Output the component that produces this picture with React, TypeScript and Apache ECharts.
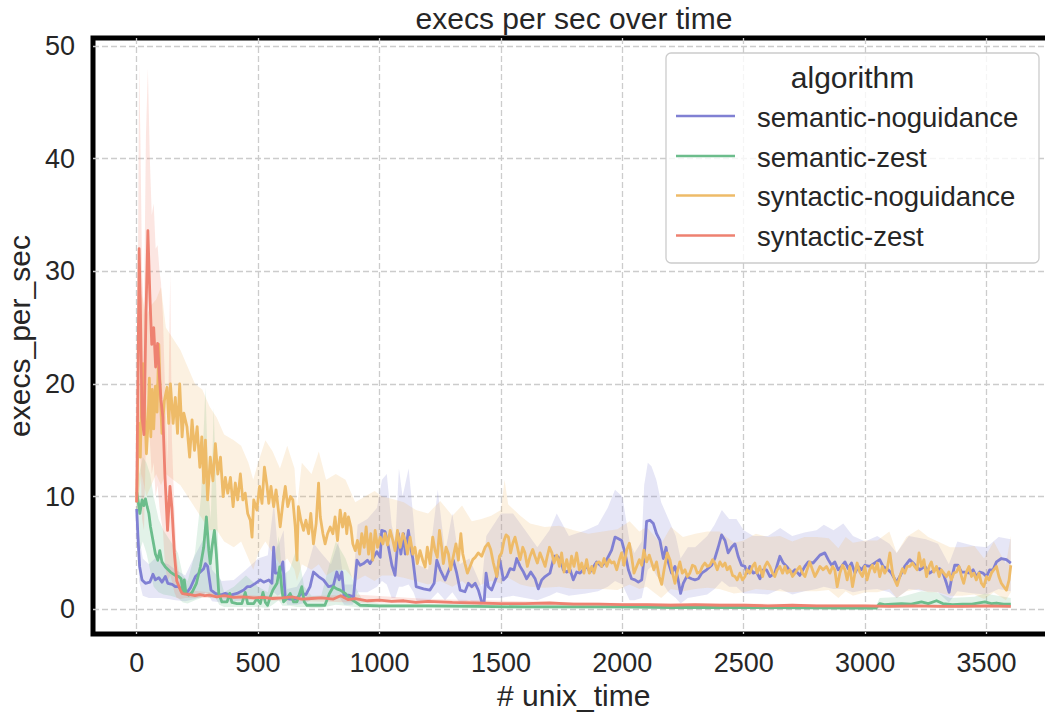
import { useEffect, useRef } from "react";
import * as echarts from "echarts";

type Pt = [number, number];
type BandRow = [number, number, number]; // [time, lower, upper]

// ---- axis ticks ----
const xTicks = [0, 500, 1000, 1500, 2000, 2500, 3000, 3500];
const yTicks = [0, 10, 20, 30, 40, 50];

// ---- semantic-noguidance ----
const semNoguidanceMean: Pt[] = [
  [0, 8.9], [6, 6.0], [12, 3.8], [22, 2.6], [36, 2.3], [54, 2.4], [67, 3.1], [77, 2.6], [91, 2.8], [104, 2.4],
  [118, 2.9], [128, 2.3], [146, 2.2], [159, 2.0], [173, 2.0], [187, 1.7], [207, 1.5], [221, 1.9], [242, 2.9],
  [262, 3.3], [276, 3.6], [283, 4.05], [292, 3.8], [306, 1.7], [324, 1.4], [345, 1.25], [365, 1.4], [386, 1.25],
  [413, 1.4], [441, 1.7], [455, 2.0], [468, 2.0], [489, 2.3], [509, 2.6], [523, 2.4], [544, 2.6], [557, 2.3],
  [564, 5.5], [571, 3.2], [585, 3.2], [591, 3.4], [602, 4.2], [612, 1.0], [632, 0.9], [655, 0.9], [680, 1.4],
  [697, 1.3], [714, 2.0], [728, 3.3], [749, 2.9], [769, 2.6], [790, 2.0], [810, 2.1], [824, 3.3], [834, 2.6],
  [845, 3.3], [854, 1.1], [872, 1.25], [893, 1.1], [907, 4.35], [920, 3.9], [934, 4.05], [950, 4.35], [961, 4.05],
  [975, 4.6], [989, 5.1], [1003, 4.6], [1009, 7.0], [1023, 6.9], [1037, 5.5], [1051, 3.9], [1064, 3.0],
  [1078, 6.7], [1088, 4.9], [1099, 6.7], [1106, 4.9], [1119, 7.0], [1129, 5.4], [1137, 4.5], [1151, 2.0],
  [1181, 1.8], [1208, 1.7], [1225, 2.3], [1236, 4.35], [1250, 3.5], [1270, 2.6], [1291, 3.75], [1304, 4.35],
  [1318, 3.2], [1332, 1.7], [1352, 1.55], [1366, 2.3], [1380, 2.0], [1394, 2.3], [1407, 1.7], [1421, 0.65],
  [1431, 0.65], [1439, 3.2], [1448, 2.0], [1462, 1.7], [1483, 2.9], [1494, 4.5], [1503, 3.5], [1510, 2.6],
  [1524, 2.9], [1538, 3.6], [1554, 3.5], [1565, 4.5], [1579, 3.8], [1593, 3.3], [1606, 2.7], [1623, 3.3],
  [1641, 2.7], [1654, 1.8], [1668, 2.6], [1682, 2.9], [1702, 3.2], [1719, 4.7], [1732, 4.7], [1746, 4.4],
  [1757, 3.5], [1771, 3.3], [1785, 3.5], [1798, 2.6], [1812, 3.3], [1826, 3.2], [1839, 3.5], [1853, 3.8],
  [1867, 3.3], [1894, 4.2], [1915, 3.8], [1936, 4.4], [1956, 5.25], [1970, 6.4], [1984, 6.25], [1997, 6.1],
  [2011, 5.0], [2025, 3.5], [2038, 2.7], [2052, 2.6], [2066, 2.4], [2080, 2.6], [2089, 4.4], [2100, 7.8],
  [2114, 7.9], [2128, 7.6], [2141, 6.7], [2155, 6.1], [2169, 4.5], [2180, 5.5], [2189, 4.2], [2203, 3.2],
  [2217, 3.8], [2230, 2.6], [2240, 1.4], [2251, 2.3], [2265, 2.9], [2285, 2.7], [2299, 2.6], [2313, 2.7],
  [2327, 3.2], [2347, 3.5], [2368, 3.9], [2381, 4.5], [2395, 5.5], [2409, 6.6], [2423, 6.1], [2436, 5.0],
  [2450, 5.5], [2464, 5.8], [2477, 4.7], [2491, 3.9], [2505, 3.8], [2514, 3.2], [2525, 3.8], [2539, 3.2],
  [2553, 3.3], [2567, 2.7], [2580, 3.5], [2594, 3.5], [2608, 2.9], [2628, 3.2], [2649, 4.7], [2663, 4.1],
  [2677, 3.8], [2697, 3.2], [2711, 3.5], [2731, 3.0], [2752, 3.8], [2766, 4.2], [2786, 4.1], [2814, 4.8],
  [2834, 5.0], [2848, 4.4], [2862, 3.9], [2875, 4.2], [2889, 3.5], [2903, 3.8], [2917, 4.2], [2930, 3.6],
  [2944, 4.1], [2958, 3.2], [2972, 3.8], [2985, 3.5], [2999, 3.9], [3019, 3.8], [3040, 4.1], [3060, 4.4],
  [3074, 3.8], [3095, 3.5], [3108, 3.2], [3129, 2.4], [3143, 2.9], [3163, 3.8], [3184, 4.4], [3198, 4.1],
  [3211, 3.8], [3225, 3.5], [3246, 3.8], [3266, 3.2], [3287, 3.5], [3307, 3.6], [3321, 3.2], [3335, 2.3],
  [3346, 1.5], [3355, 2.6], [3369, 3.9], [3383, 3.9], [3397, 3.3], [3411, 3.3], [3431, 3.2], [3445, 3.5],
  [3458, 2.9], [3472, 3.3], [3486, 3.2], [3500, 2.9], [3513, 3.5], [3527, 3.5], [3541, 4.2], [3561, 4.5],
  [3582, 4.4], [3600, 4.1],
];
const semNoguidanceBand: BandRow[] = [
  [0, 7.5, 10.2], [10, 2.5, 6.5], [25, 1.2, 4.5], [50, 1.0, 4.0], [75, 1.0, 4.5], [100, 1.0, 4.2], [130, 0.9, 4.0],
  [160, 0.8, 3.5], [200, 0.7, 3.0], [240, 0.9, 4.8], [270, 1.2, 6.0], [290, 1.5, 7.0], [310, 0.7, 3.5],
  [350, 0.6, 2.5], [400, 0.7, 2.6], [450, 0.8, 3.5], [500, 1.0, 4.5], [540, 1.0, 4.8], [565, 1.5, 9.5],
  [580, 1.2, 5.5], [605, 1.5, 7.0], [620, 0.4, 1.8], [660, 0.4, 2.0], [700, 0.6, 3.5], [730, 1.0, 5.8],
  [760, 1.0, 5.0], [800, 0.8, 4.0], [830, 1.2, 6.0], [855, 0.4, 2.2], [890, 0.4, 2.2], [910, 1.5, 7.5],
  [950, 1.5, 8.0], [990, 2.0, 9.0], [1010, 2.5, 11.5], [1030, 2.2, 12.0], [1050, 1.0, 7.5], [1065, 1.0, 6.0],
  [1080, 2.0, 12.5], [1095, 2.0, 10.0], [1120, 2.2, 12.5], [1140, 1.5, 8.0], [1155, 0.6, 4.0], [1200, 0.6, 3.5],
  [1240, 1.5, 10.6], [1270, 0.8, 5.0], [1300, 1.5, 8.5], [1330, 0.6, 4.0], [1370, 0.8, 4.5], [1420, 0.3, 2.0],
  [1440, 1.0, 6.5], [1500, 1.0, 8.5], [1550, 1.2, 8.5], [1600, 1.0, 7.0], [1650, 0.8, 5.5], [1700, 1.2, 7.0],
  [1730, 1.5, 8.5], [1780, 1.2, 6.5], [1850, 1.4, 7.0], [1900, 1.6, 7.5], [1940, 2.0, 9.0], [1970, 2.5, 10.6],
  [2000, 2.2, 10.0], [2030, 0.8, 6.0], [2050, 0.8, 5.0], [2080, 1.0, 6.0], [2090, 2.0, 11.0], [2105, 3.5, 13.0],
  [2120, 3.8, 12.7], [2140, 3.0, 11.5], [2160, 2.5, 9.5], [2190, 1.5, 8.0], [2220, 1.0, 6.5], [2240, 0.5, 4.5],
  [2270, 1.0, 5.5], [2300, 1.1, 5.5], [2350, 1.3, 6.5], [2380, 1.8, 7.5], [2410, 2.5, 8.8], [2440, 2.0, 8.0],
  [2470, 2.0, 8.0], [2500, 1.4, 7.0], [2540, 1.4, 6.5], [2600, 1.3, 6.5], [2650, 1.8, 7.2], [2700, 1.3, 6.5],
  [2750, 1.6, 6.8], [2800, 1.8, 7.0], [2830, 2.0, 7.5], [2870, 1.8, 7.0], [2910, 1.8, 7.6], [2950, 1.5, 6.5],
  [3000, 1.7, 6.0], [3050, 1.8, 6.5], [3100, 1.5, 5.8], [3130, 1.0, 5.0], [3180, 1.8, 6.5], [3250, 1.6, 6.2],
  [3300, 1.5, 5.8], [3345, 0.6, 4.0], [3380, 1.6, 6.0], [3450, 1.4, 5.6], [3500, 1.3, 5.5], [3550, 1.8, 6.4],
  [3600, 1.6, 6.2],
];

// ---- semantic-zest ----
const semZestMean: Pt[] = [
  [0, 10.4], [6, 9.6], [13, 8.5], [22, 9.7], [29, 9.2], [36, 9.8], [43, 9.1], [50, 8.5], [57, 7.3], [67, 6.1],
  [77, 4.9], [87, 4.35], [95, 5.2], [104, 4.2], [118, 3.75], [139, 3.3], [159, 3.0], [173, 2.9], [183, 2.7],
  [191, 1.4], [196, 2.6], [203, 1.4], [214, 1.25], [228, 1.5], [246, 2.3], [262, 3.75], [276, 5.5], [287, 8.2],
  [297, 5.2], [303, 4.05], [310, 5.5], [320, 7.0], [328, 4.9], [338, 1.4], [351, 0.65], [372, 0.65], [383, 1.4],
  [392, 0.6], [413, 0.5], [433, 0.5], [447, 1.5], [457, 0.5], [470, 0.5], [482, 0.5], [495, 0.95], [509, 0.5],
  [520, 1.5], [530, 0.6], [539, 0.35], [550, 1.1], [561, 1.7], [578, 2.3], [589, 3.75], [598, 1.7], [605, 0.65],
  [618, 0.95], [632, 1.4], [646, 0.65], [660, 0.65], [671, 1.4], [680, 2.0], [690, 0.65], [701, 0.35], [730, 0.35],
  [756, 0.35], [775, 0.35], [794, 1.4], [810, 2.0], [824, 1.8], [838, 1.7], [859, 1.4], [879, 0.95], [900, 0.65],
  [920, 0.35], [1000, 0.3], [1200, 0.3], [1400, 0.25], [1600, 0.2], [1800, 0.2], [2000, 0.2], [2200, 0.15],
  [2500, 0.15], [2800, 0.12], [3000, 0.1], [3045, 0.1], [3060, 0.5], [3080, 0.4], [3110, 0.45], [3150, 0.5],
  [3190, 0.45], [3232, 0.65], [3260, 0.5], [3294, 0.75], [3320, 0.5], [3360, 0.4], [3400, 0.45], [3440, 0.45],
  [3493, 0.65], [3520, 0.5], [3541, 0.55], [3570, 0.45], [3600, 0.45],
];
const semZestBand: BandRow[] = [
  [0, 8.5, 12.5], [10, 5, 12], [25, 6, 13.5], [40, 5, 13], [55, 3.5, 12], [70, 2, 10], [90, 1.5, 8],
  [110, 1.3, 7], [140, 1.2, 6], [170, 1.0, 5], [190, 0.6, 3], [210, 0.5, 2.5], [240, 0.8, 5], [265, 1, 10],
  [283, 1.5, 19.7], [297, 1.0, 10], [305, 1.0, 8], [317, 1.2, 17.9], [330, 0.8, 9], [340, 0.4, 3],
  [360, 0.2, 1.5], [400, 0.2, 2.0], [450, 0.2, 3.0], [500, 0.2, 2.0], [540, 0.1, 1.5], [560, 0.4, 3.5],
  [585, 0.8, 6.5], [600, 0.3, 3.0], [630, 0.3, 3.5], [660, 0.2, 5.5], [690, 0.2, 2.0], [720, 0.1, 1.2],
  [760, 0.1, 1.2], [800, 0.3, 4.5], [820, 0.4, 6.0], [860, 0.3, 4.5], [900, 0.2, 2.0], [930, 0.1, 0.8],
  [1000, 0.1, 0.5], [2000, 0.05, 0.35], [3000, 0.0, 0.25], [3045, 0.0, 0.3], [3060, 0.1, 1.0], [3150, 0.1, 1.1],
  [3232, 0.2, 1.6], [3294, 0.2, 1.5], [3350, 0.1, 1.0], [3450, 0.1, 1.1], [3493, 0.2, 1.4], [3600, 0.1, 1.0],
];

// ---- syntactic-noguidance ----
const synNoguidanceMean: Pt[] = [
  [0, 9.5], [5, 14.5], [9, 16.5], [15, 13.5], [20, 19], [26, 21.8], [32, 18.5], [40, 13.8], [46, 16.2], [52, 20.5],
  [58, 15.3], [64, 19.5], [70, 16], [77, 19.8], [84, 17.5], [91, 23.5], [98, 18.6], [104, 15.6], [114, 18.5],
  [125, 19.7], [132, 16.5], [139, 20.0], [150, 16.5], [159, 18.8], [168, 15.6], [177, 20.0], [187, 15.3],
  [194, 17.4], [207, 16.2], [218, 13.5], [228, 16.8], [238, 14.1], [249, 16.2], [260, 12.6], [268, 15.3],
  [276, 11.2], [283, 15.0], [292, 9.7], [303, 13.5], [314, 11.4], [324, 14.7], [334, 12.0], [345, 13.5],
  [356, 10.0], [365, 11.7], [375, 10.3], [386, 11.7], [397, 9.1], [406, 11.2], [416, 9.7], [427, 12.0],
  [437, 9.7], [447, 10.3], [457, 8.5], [468, 7.9], [475, 6.4], [482, 9.7], [495, 8.8], [506, 10.9], [516, 9.4],
  [526, 12.6], [537, 10.9], [544, 9.4], [553, 10.9], [564, 9.1], [574, 10.6], [585, 8.5], [591, 7.3], [602, 9.4],
  [612, 10.9], [622, 9.1], [633, 10.0], [643, 9.7], [653, 7.3], [660, 4.35], [666, 9.1], [676, 7.9], [687, 7.0],
  [697, 7.9], [708, 6.7], [717, 8.5], [728, 5.8], [739, 7.6], [749, 11.2], [756, 8.2], [767, 6.7], [776, 5.8],
  [786, 6.7], [797, 7.3], [808, 6.7], [817, 8.2], [827, 6.1], [838, 8.8], [848, 7.3], [858, 8.5], [865, 6.7],
  [872, 8.2], [882, 7.3], [890, 5.8], [900, 5.2], [909, 6.1], [918, 4.9], [927, 6.7], [937, 5.5], [945, 7.3],
  [955, 4.9], [964, 6.7], [972, 4.35], [982, 7.0], [992, 5.5], [1003, 6.4], [1014, 5.8], [1023, 6.7], [1033, 5.7],
  [1044, 7.0], [1055, 6.1], [1064, 5.2], [1074, 7.0], [1085, 5.5], [1096, 6.7], [1106, 6.1], [1115, 4.9],
  [1126, 6.4], [1137, 4.9], [1146, 5.5], [1156, 4.05], [1167, 5.2], [1178, 4.35], [1188, 3.75], [1197, 5.5],
  [1208, 4.05], [1219, 6.4], [1229, 5.2], [1238, 4.6], [1247, 7.0], [1256, 5.5], [1263, 4.05], [1274, 5.5],
  [1284, 4.9], [1293, 3.5], [1304, 4.7], [1315, 5.8], [1325, 4.35], [1335, 6.7], [1343, 4.9], [1352, 4.05],
  [1362, 3.2], [1373, 3.8], [1384, 4.4], [1394, 4.6], [1407, 5.0], [1421, 4.7], [1435, 5.5], [1448, 5.85],
  [1458, 5.3], [1469, 4.1], [1483, 2.9], [1494, 4.7], [1503, 5.0], [1513, 6.1], [1521, 6.6], [1531, 6.4],
  [1540, 5.0], [1549, 5.85], [1558, 6.4], [1568, 5.5], [1579, 4.4], [1590, 5.5], [1599, 5.0], [1609, 3.8],
  [1620, 4.7], [1631, 5.3], [1640, 4.7], [1650, 4.1], [1661, 5.0], [1672, 4.4], [1682, 3.8], [1691, 4.7],
  [1700, 5.5], [1710, 5.0], [1719, 4.1], [1730, 4.8], [1741, 3.8], [1750, 5.0], [1760, 3.3], [1771, 4.4],
  [1782, 3.3], [1791, 4.7], [1801, 3.8], [1812, 5.0], [1823, 3.5], [1833, 4.1], [1842, 3.2], [1853, 4.4],
  [1864, 3.2], [1874, 3.8], [1883, 3.2], [1894, 4.1], [1905, 4.2], [1915, 3.8], [1925, 4.5], [1936, 3.8],
  [1946, 4.4], [1956, 4.1], [1966, 4.2], [1977, 3.5], [1988, 4.4], [1997, 5.0], [2007, 3.9], [2018, 5.25],
  [2029, 5.85], [2038, 4.7], [2048, 3.2], [2059, 3.8], [2070, 4.4], [2080, 3.9], [2089, 5.25], [2100, 4.2],
  [2111, 4.8], [2120, 4.2], [2130, 3.5], [2141, 4.2], [2152, 2.9], [2162, 2.2], [2172, 3.5], [2185, 5.0],
  [2196, 4.4], [2207, 3.2], [2217, 2.3], [2226, 3.3], [2237, 4.2], [2247, 3.2], [2258, 3.5], [2268, 2.9],
  [2278, 3.2], [2289, 3.9], [2299, 3.8], [2309, 3.2], [2320, 3.3], [2330, 3.8], [2340, 4.1], [2350, 3.8],
  [2361, 3.9], [2372, 4.4], [2381, 4.1], [2391, 3.5], [2402, 4.2], [2413, 3.8], [2423, 4.1], [2432, 3.5],
  [2443, 3.8], [2454, 3.0], [2464, 2.9], [2473, 2.6], [2484, 3.2], [2495, 2.6], [2505, 2.9], [2514, 3.5],
  [2525, 3.2], [2536, 3.8], [2546, 4.1], [2555, 3.2], [2566, 3.8], [2578, 2.9], [2587, 3.8], [2597, 4.2],
  [2608, 3.8], [2619, 3.2], [2628, 2.9], [2638, 3.5], [2649, 3.8], [2660, 3.2], [2670, 3.8], [2679, 3.2],
  [2690, 3.5], [2701, 2.9], [2711, 3.2], [2720, 3.5], [2731, 3.8], [2742, 3.2], [2752, 2.9], [2761, 3.5],
  [2772, 4.2], [2783, 3.5], [2793, 2.9], [2803, 3.3], [2814, 3.8], [2827, 3.5], [2841, 3.8], [2855, 3.2],
  [2866, 3.8], [2875, 3.5], [2885, 2.0], [2896, 3.2], [2907, 3.9], [2917, 3.5], [2926, 2.6], [2937, 3.8],
  [2948, 2.0], [2958, 3.2], [2967, 4.1], [2978, 3.3], [2989, 2.9], [2999, 3.8], [3008, 2.6], [3019, 3.5],
  [3030, 3.9], [3040, 3.3], [3050, 4.1], [3060, 2.9], [3071, 3.8], [3081, 3.2], [3091, 3.6], [3102, 5.0],
  [3113, 3.2], [3122, 2.6], [3132, 2.1], [3143, 2.9], [3154, 3.6], [3163, 3.2], [3173, 3.8], [3184, 3.8],
  [3195, 4.1], [3204, 3.8], [3214, 3.5], [3222, 5.0], [3232, 3.8], [3242, 4.4], [3253, 2.9], [3264, 3.8],
  [3273, 4.2], [3283, 3.3], [3294, 3.8], [3305, 2.9], [3314, 3.5], [3324, 3.2], [3335, 2.9], [3345, 3.3],
  [3355, 2.6], [3365, 3.2], [3376, 3.3], [3387, 3.8], [3397, 2.9], [3406, 2.3], [3417, 3.3], [3428, 3.8],
  [3438, 2.9], [3448, 3.2], [3458, 2.6], [3469, 3.2], [3479, 2.3], [3489, 2.0], [3500, 2.9], [3510, 2.6],
  [3520, 3.2], [3530, 3.5], [3541, 3.8], [3551, 2.9], [3561, 2.3], [3571, 2.0], [3582, 1.7], [3593, 2.6],
  [3600, 3.9],
];
const synNoguidanceBand: BandRow[] = [
  [0, 8.5, 11], [10, 10.5, 25], [20, 12, 28], [40, 10, 26], [60, 11, 27], [80, 12, 27.5], [100, 11, 28.6],
  [120, 12, 25], [150, 11.5, 24], [180, 11, 23], [210, 10, 21.5], [240, 9, 20], [270, 8, 19.5], [300, 7, 18],
  [330, 7, 17], [360, 6, 15.5], [400, 5.5, 15], [430, 6, 14.5], [460, 4.5, 13], [480, 3.5, 11.5], [500, 5, 13],
  [530, 6, 15], [560, 5, 14], [590, 4, 12.5], [620, 4.5, 14.5], [650, 3.5, 12.5], [660, 2.5, 9], [680, 4, 13],
  [720, 3.5, 12], [750, 4, 14], [780, 3, 11.5], [820, 3.5, 12], [860, 3.5, 11.5], [900, 2.5, 9.5], [940, 3, 10],
  [980, 2.5, 10.5], [1010, 3, 10], [1050, 3, 9.8], [1100, 2.8, 9.5], [1150, 2.5, 8.8], [1200, 2.2, 8.5],
  [1250, 2.5, 9.6], [1300, 2.0, 8.3], [1340, 2.5, 9.2], [1380, 1.8, 7.8], [1420, 2.2, 8.0], [1460, 2.5, 8.3],
  [1500, 2.3, 8.8], [1515, 3, 11.5], [1530, 2.8, 9.3], [1580, 2.2, 8.3], [1620, 2, 7.6], [1680, 1.9, 7.3],
  [1740, 2, 7.4], [1800, 1.8, 7.0], [1860, 1.8, 6.7], [1920, 1.8, 6.9], [1980, 1.7, 7.1], [2030, 2.2, 7.8],
  [2070, 1.8, 6.9], [2100, 2.0, 7.3], [2160, 1.0, 5.8], [2200, 1.8, 7.3], [2250, 1.6, 6.4], [2300, 1.8, 6.7],
  [2350, 1.9, 6.9], [2400, 1.8, 6.9], [2460, 1.4, 5.9], [2500, 1.5, 6.1], [2550, 1.8, 6.7], [2600, 1.7, 6.4],
  [2650, 1.6, 6.5], [2700, 1.5, 6.0], [2750, 1.6, 6.4], [2800, 1.6, 6.4], [2850, 1.7, 6.3], [2890, 1.0, 5.4],
  [2920, 1.6, 6.4], [2950, 1.2, 5.9], [3000, 1.5, 6.1], [3050, 1.5, 6.1], [3100, 1.8, 6.9], [3130, 1.0, 5.0],
  [3170, 1.6, 6.4], [3220, 1.8, 7.1], [3260, 1.5, 6.4], [3300, 1.5, 6.0], [3350, 1.2, 5.5], [3400, 1.2, 5.5],
  [3450, 1.3, 5.6], [3490, 0.9, 4.5], [3530, 1.5, 6.0], [3580, 0.8, 4.0], [3600, 1.5, 6.5],
];

// ---- syntactic-zest ----
const synZestMean: Pt[] = [
  [0, 9.5], [5, 20], [10, 32.0], [15, 27], [22, 17], [30, 15.5], [38, 26], [46, 33.6], [54, 28], [62, 23.5],
  [70, 25], [78, 21.5], [86, 23.6], [94, 20.5], [100, 18.6], [108, 17], [116, 12], [127, 7.0], [137, 10.9],
  [145, 9], [155, 5], [165, 2.5], [180, 1.7], [187, 1.4], [200, 1.35], [220, 1.3], [240, 1.2], [260, 1.3],
  [280, 1.2], [300, 1.25], [330, 1.1], [360, 1.2], [400, 1.05], [440, 1.1], [480, 1.0], [520, 1.05], [560, 0.95],
  [600, 1.0], [640, 1.1], [680, 0.9], [720, 0.95], [760, 1.0], [810, 0.9], [840, 1.2], [870, 0.85], [900, 0.95],
  [950, 0.75], [1000, 0.8], [1050, 0.7], [1100, 0.75], [1150, 0.6], [1200, 0.7], [1300, 0.6], [1400, 0.55],
  [1500, 0.5], [1600, 0.5], [1700, 0.55], [1800, 0.45], [1900, 0.45], [2000, 0.4], [2100, 0.4], [2200, 0.35],
  [2300, 0.4], [2400, 0.35], [2500, 0.35], [2600, 0.3], [2700, 0.35], [2800, 0.3], [2900, 0.3], [3000, 0.3],
  [3100, 0.25], [3200, 0.3], [3300, 0.25], [3400, 0.25], [3500, 0.3], [3600, 0.25],
];
const synZestBand: BandRow[] = [
  [0, 7.5, 11.5], [5, 10, 30], [10, 17, 48.5], [15, 14, 42], [22, 8, 30], [30, 7, 26], [38, 15, 42], [46, 20, 48],
  [54, 15, 40], [62, 12, 35], [70, 13, 36], [78, 10, 32], [86, 11, 32.3], [94, 9, 30], [100, 8, 29], [108, 7, 26],
  [116, 4, 20], [127, 2.5, 13], [138, 3, 29.8], [145, 2.5, 15], [155, 1.5, 9], [165, 1.0, 4.5], [180, 0.9, 2.5],
  [200, 1.0, 1.7], [300, 1.0, 1.5], [500, 0.8, 1.2], [700, 0.7, 1.15], [900, 0.6, 1.3], [1200, 0.5, 0.9],
  [1600, 0.35, 0.7], [2000, 0.3, 0.55], [2500, 0.2, 0.5], [3000, 0.2, 0.45], [3600, 0.15, 0.4],
];

const algorithms = [
  { name: "semantic-noguidance", color: "#8080d3", mean: semNoguidanceMean, band: semNoguidanceBand },
  { name: "semantic-zest", color: "#6cbd8c", mean: semZestMean, band: semZestBand },
  { name: "syntactic-noguidance", color: "#eebb68", mean: synNoguidanceMean, band: synNoguidanceBand },
  { name: "syntactic-zest", color: "#ee8170", mean: synZestMean, band: synZestBand },
];

const FONT = '"Liberation Sans", Arial, Helvetica, sans-serif';
const TEXT = "#262626";
const GRID_LINE = { type: [6, 3] as number[], color: "#cccccc", width: 1.3 };

function withAlpha(hex: string, a: number): string {
  const n = parseInt(hex.slice(1), 16);
  return `rgba(${(n >> 16) & 255},${(n >> 8) & 255},${n & 255},${a})`;
}

// confidence band drawn as one polygon through the cartesian coordinate system
function bandSeries(name: string, color: string, band: BandRow[], z: number) {
  return {
    type: "custom",
    name: `${name} band`,
    silent: true,
    z,
    data: band,
    encode: { x: 0, y: [1, 2] },
    renderItem: (params: any, api: any) => {
      if (params.dataIndex !== 0) return null;
      const upper = band.map((r) => api.coord([r[0], r[2]]));
      const lower = band.map((r) => api.coord([r[0], r[1]])).reverse();
      return {
        type: "polygon",
        shape: { points: upper.concat(lower) },
        style: { fill: withAlpha(color, 0.2), stroke: "none" },
      };
    },
  };
}

function legendGraphic() {
  const box = { x: 666, y: 53, w: 373, h: 210 };
  const rowsY = [116, 156, 195.5, 235.5];
  const children: any[] = [
    {
      type: "rect", z: 100,
      shape: { x: box.x, y: box.y, width: box.w, height: box.h, r: 5 },
      style: { fill: "rgba(255,255,255,0.8)", stroke: "#cccccc", lineWidth: 1.3 },
    },
    {
      type: "text", z: 101,
      style: {
        text: "algorithm", x: box.x + box.w / 2, y: 77, font: `30px ${FONT}`, fill: TEXT,
        align: "center", verticalAlign: "middle",
      },
    },
  ];
  algorithms.forEach((a, i) => {
    children.push({
      type: "line", z: 101,
      shape: { x1: 676, y1: rowsY[i], x2: 735, y2: rowsY[i] },
      style: { stroke: a.color, lineWidth: 2.6 },
    });
    children.push({
      type: "text", z: 101,
      style: {
        text: a.name, x: 757, y: rowsY[i] + 1, font: `27.5px ${FONT}`, fill: TEXT,
        align: "left", verticalAlign: "middle",
      },
    });
  });
  return { type: "group", children };
}

export default function App() {
  const ref = useRef<HTMLDivElement>(null);

  useEffect(() => {
    if (!ref.current) return;
    const chart = echarts.init(ref.current, undefined, { renderer: "svg" });

    const series: any[] = [];
    algorithms.forEach((a, i) => series.push(bandSeries(a.name, a.color, a.band, 1 + i * 0.01)));
    algorithms.forEach((a, i) =>
      series.push({
        type: "line",
        name: a.name,
        data: a.mean,
        showSymbol: false,
        symbol: "none",
        z: 3 + i,
        lineStyle: { color: a.color, width: 2.8, join: "round" },
        itemStyle: { color: a.color },
      })
    );

    const plain = (v: number) => String(v);

    chart.setOption({
      animation: false,
      backgroundColor: "#ffffff",
      textStyle: { fontFamily: FONT, color: TEXT },
      grid: {
        left: 93, top: 38, right: -9.5, bottom: 81,
        show: true, borderColor: "#000000", borderWidth: 5, backgroundColor: "transparent",
        containLabel: false, outerBoundsMode: "none",
      },
      xAxis: {
        type: "value", min: -180, max: 3780,
        name: "# unix_time", nameLocation: "middle", nameGap: 46,
        nameTextStyle: { fontSize: 30, color: TEXT, fontFamily: FONT },
        axisLine: { show: false },
        axisTick: { show: false, customValues: xTicks },
        axisLabel: { customValues: xTicks, formatter: plain, fontSize: 27, color: TEXT, fontFamily: FONT, margin: 15 },
        splitLine: { show: true, lineStyle: GRID_LINE },
      },
      yAxis: {
        type: "value", min: -2.2, max: 50.7,
        name: "execs_per_sec", nameLocation: "middle", nameGap: 58,
        nameTextStyle: { fontSize: 30, color: TEXT, fontFamily: FONT },
        axisLine: { show: false },
        axisTick: { show: false, customValues: yTicks },
        axisLabel: { customValues: yTicks, formatter: plain, fontSize: 27, color: TEXT, fontFamily: FONT, margin: 18 },
        splitLine: { show: true, lineStyle: GRID_LINE },
      },
      graphic: [
        {
          type: "text", z: 100,
          style: {
            text: "execs per sec over time", x: 574, y: 18, font: `30px ${FONT}`, fill: TEXT,
            align: "center", verticalAlign: "middle",
          },
        },
        legendGraphic(),
      ],
      series,
    });

    return () => chart.dispose();
  }, []);

  return (
    <div
      ref={ref}
      style={{ position: "fixed", left: 0, top: 0, width: 1045, height: 715, background: "#ffffff" }}
    />
  );
}
